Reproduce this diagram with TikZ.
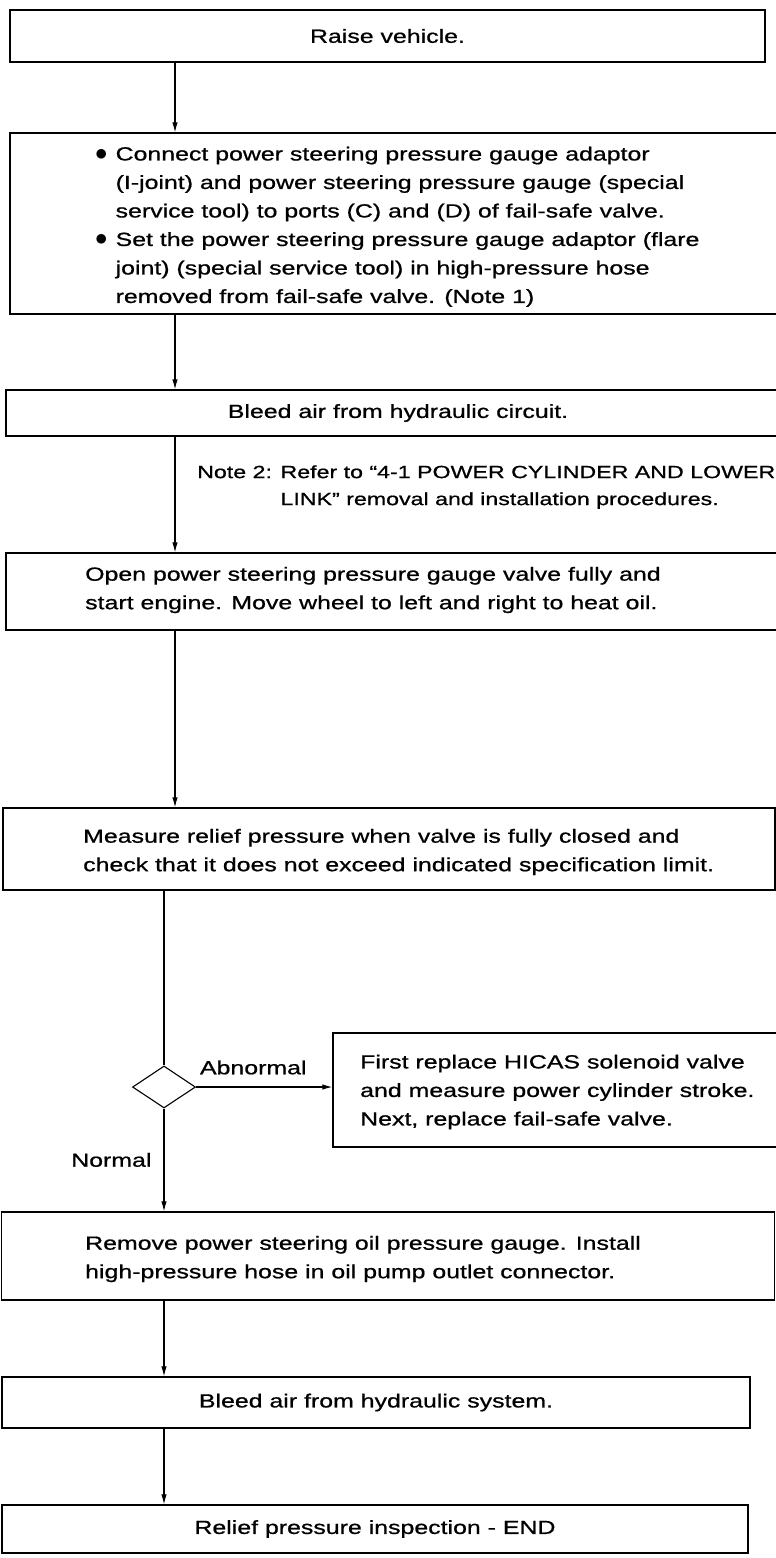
\documentclass[tikz,border=0pt]{standalone}
\usepackage{fontspec}
\setmainfont{Liberation Sans}[FakeStretch=1.31,FakeBold=0.8]
\usetikzlibrary{arrows.meta,shapes.geometric}
\newcommand{\blt}{{\fontsize{26}{26}\selectfont$\bullet$}}

\begin{document}
\begin{tikzpicture}[x=1pt,y=-1pt,
  every node/.style={font=\fontsize{19}{28.5}\selectfont},
  stepbox/.style={draw,line width=1.4pt,inner sep=0pt},
  txt/.style={anchor=west,align=left,inner sep=0pt},
  flow/.style={line width=1.1pt,-{Latex[length=10pt,width=5.5pt]}}]
\useasboundingbox (0,0) rectangle (776,1558);
\coordinate (up) at (175,0);
% steps down the left spine
\node[stepbox,minimum width=755pt,minimum height=52pt] (raise) at (387.5,36) {Raise vehicle.};
\node[stepbox,minimum width=780pt,minimum height=181pt] (connect) at (400,223.5) {};
\node[txt] (connecttxt) at (95,226) {\begin{tabular}{@{}c@{\hspace{8pt}}l@{}}
 \blt & Connect power steering pressure gauge adaptor\\
 & (I-joint) and power steering pressure gauge (special\\
 & service tool) to ports (C) and (D) of fail-safe valve.\\
 \blt & Set the power steering pressure gauge adaptor (flare\\
 & joint) (special service tool) in high-pressure hose\\
 & removed from fail-safe valve. (Note 1)\end{tabular}};
\node[stepbox,minimum width=784pt,minimum height=46pt] (bleedc) at (398,413) {Bleed air from hydraulic circuit.};
\node[txt,anchor=north west,font=\fontsize{17.7}{27}\selectfont] (note) at (197,459) {\begin{tabular}{@{}l@{ }l@{}}
 Note 2: & Refer to ``4-1 POWER CYLINDER AND LOWER\\
 & LINK'' removal and installation procedures.\end{tabular}};
\node[stepbox,minimum width=784pt,minimum height=77pt] (open) at (398,591.5) {};
\node[txt] (opentxt) at (85,590) {Open power steering pressure gauge valve fully and\\
 start engine. Move wheel to left and right to heat oil.};
\node[stepbox,minimum width=772pt,minimum height=82pt] (measure) at (389,849) {};
\node[txt] (measuretxt) at (83,852) {Measure relief pressure when valve is fully closed and\\
 check that it does not exceed indicated specification limit.};
% check and branch
\node[draw,diamond,line width=1.1pt,minimum width=63pt,minimum height=42pt,inner sep=0pt] (dec) at (164,1087) {};
\node[stepbox,minimum width=444pt,minimum height=114pt] (hicas) at (555,1090) {};
\node[txt] (hicastxt) at (360,1092) {First replace HICAS solenoid valve\\
 and measure power cylinder stroke.\\
 Next, replace fail-safe valve.};
\node[stepbox,minimum width=773pt,minimum height=88pt] (remove) at (388,1256) {};
\node[txt] (removetxt) at (85,1259) {Remove power steering oil pressure gauge. Install\\
 high-pressure hose in oil pump outlet connector.};
\node[stepbox,minimum width=748pt,minimum height=51pt] (bleeds) at (376,1402.5) {Bleed air from hydraulic system.};
\node[stepbox,minimum width=746pt,minimum height=48pt] (finish) at (375,1529) {Relief pressure inspection - END};
% connectors
\draw[flow] (raise.south -| up) -- (connect.north -| up);
\draw[flow] (connect.south -| up) -- (bleedc.north -| up);
\draw[flow] (bleedc.south -| up) -- (open.north -| up);
\draw[flow] (open.south -| up) -- (measure.north -| up);
\draw[line width=1.1pt] (measure.south -| dec) -- (dec.north);
\draw[flow] (dec.east) -- node[pos=0.42,above=12pt,inner sep=0pt] (abn) {Abnormal} (dec.east -| hicas.west);
\draw[flow] (dec.south) -- node[midway,left=12pt,inner sep=0pt] (nrm) {Normal} (remove.north -| dec);
\draw[flow] (remove.south -| dec) -- (bleeds.north -| dec);
\draw[flow] (bleeds.south -| dec) -- (finish.north -| dec);
\end{tikzpicture}
\end{document}
